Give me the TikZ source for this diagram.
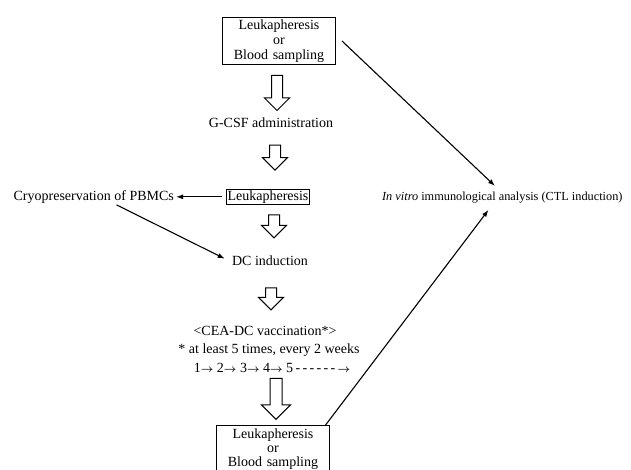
\documentclass[tikz,border=0pt]{standalone}
\usepackage{fontspec}
\usepackage{bm}
\setmainfont{Liberation Serif}
\usetikzlibrary{positioning,arrows.meta,shapes.arrows}
\newcommand{\sarr}{{\fontsize{11}{11}\selectfont$\bm{\rightarrow}$}}

\begin{document}
\begin{tikzpicture}[
  txt/.style={inner sep=0pt,text height=10pt,text depth=3pt,font=\fontsize{14}{15}\selectfont},
  bigbox/.style={draw,line width=1pt,align=center,text width=109pt,minimum height=47pt,inner sep=2pt,font=\fontsize{14}{15}\selectfont},
  smallbox/.style={draw,line width=1pt,inner sep=1pt,text height=10pt,text depth=3pt,font=\fontsize{14}{15}\selectfont},
  hollow/.style={single arrow,draw,line width=1pt,rotate=-90,anchor=tail,inner xsep=0pt,inner ysep=5pt,minimum width=24pt,single arrow head extend=7pt},
  arr/.style={-{Latex[length=7pt,width=5pt]},line width=1.1pt}
]
\useasboundingbox (0,0) rectangle (631pt,-470pt);
\node[bigbox] (lbs) at (279pt,-41pt) {Leukapheresis\\or\\Blood sampling};
\node[below=10pt of lbs.south,xshift=-2pt,hollow,minimum height=35pt] (h1) {};
\node[txt,below=6.5pt of h1.tip,xshift=-6pt] (gcsf) {G-CSF administration};
\node[below=13.5pt of gcsf.south,xshift=4pt,hollow,minimum height=25pt] (h2) {};
\node[smallbox,below=18pt of h2.tip,xshift=-7pt] (leuk) {Leukapheresis};
\node[txt,left=52pt of leuk] (cryo) {Cryopreservation of PBMCs};
\node[txt,right=72pt of leuk,font=\fontsize{12.3}{14}\selectfont] (vitro) {\textit{In vitro} immunological analysis (CTL induction)};
\node[below=9.5pt of leuk.south,xshift=6pt,hollow,minimum height=23pt] (h3) {};
\node[txt,below=17pt of h3.tip,xshift=-4pt] (dc) {DC induction};
\node[below=18.5pt of dc.south,xshift=1pt,hollow,minimum height=22pt] (h4) {};
\node[txt,below=14.5pt of h4.tip,xshift=-6pt] (cea) {<CEA-DC vaccination*>};
\node[txt,below=5pt of cea,xshift=4pt] (times) {* at least 5 times, every 2 weeks};
\node[txt,below=5pt of times,xshift=3pt] (seq) {1\sarr\ 2\sarr\ 3\sarr\ 4\sarr\ 5\,-\,-\,-\,-\,-\,-\,\sarr};
\node[below=2.5pt of seq,xshift=4pt,hollow,minimum height=41pt,minimum width=28pt,inner ysep=5.5pt,single arrow head extend=8.5pt] (h5) {};
\node[bigbox,below=5pt of h5.tip,xshift=-3pt,font=\fontsize{14}{14}\selectfont] (lbsend) {Leukapheresis\\or\\Blood sampling};
\draw[arr,shorten <=4pt,shorten >=2pt] (leuk.west) -- (cryo.east);
\draw[arr,shorten <=3pt,shorten >=8pt] ([xshift=20pt]cryo.south) -- (dc.west);
\draw[arr,shorten >=6pt] ([xshift=6pt]lbs.east) -- ([xshift=-3pt]vitro.north);
\draw[arr,shorten >=8pt] ([xshift=11pt]lbsend.30) -- ([xshift=-9pt]vitro.south);
\end{tikzpicture}
\end{document}
